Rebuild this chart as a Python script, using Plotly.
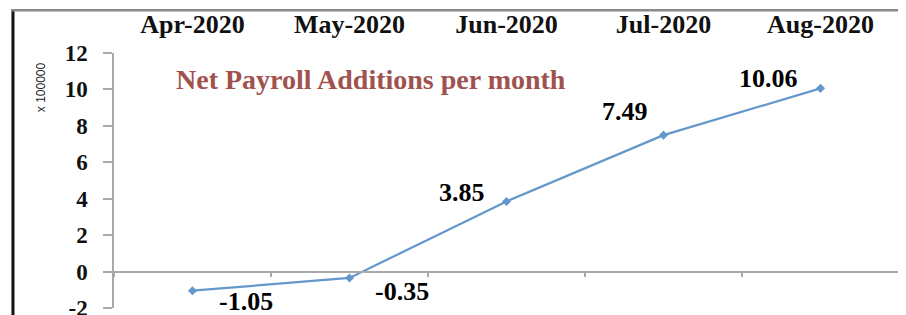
import plotly.graph_objects as go

months = ["Apr-2020", "May-2020", "Jun-2020", "Jul-2020", "Aug-2020"]
net_additions = [-1.05, -0.35, 3.85, 7.49, 10.06]
value_labels = ["-1.05", "-0.35", "3.85", "7.49", "10.06"]
y_ticks = [-2, 0, 2, 4, 6, 8, 10, 12]
y_tick_labels = ["-2", "0", "2", "4", "6", "8", "10", "12"]

# label offsets (style only), in pixels
label_dx = [53, 52, -45, -39, -52]
label_dy = [-11, -14, 9, 24, 10]

SERIF = "Liberation Serif"
LINE_BLUE = "#6497CA"
AXIS_GREY = "#A9A9A9"

fig = go.Figure()
fig.add_trace(go.Scatter(
    x=months, y=net_additions, mode="lines+markers",
    line=dict(color=LINE_BLUE, width=2.2),
    marker=dict(symbol="diamond", size=7, color=LINE_BLUE),
    xaxis="x", yaxis="y", showlegend=False, hoverinfo="skip",
))
# invisible companion trace so the zero-line axis is drawn
fig.add_trace(go.Scatter(
    x=months, y=net_additions, mode="none",
    xaxis="x2", yaxis="y", showlegend=False, hoverinfo="skip",
))

for m, v, t, dx, dy in zip(months, net_additions, value_labels, label_dx, label_dy):
    fig.add_annotation(
        x=m, y=v, xref="x", yref="y", text=t, showarrow=False,
        xshift=dx, yshift=dy, xanchor="center", yanchor="middle",
        font=dict(family=SERIF, size=26, color="#000000", weight="bold"),
    )

fig.add_annotation(
    x=0.327, y=0.895, xref="paper", yref="paper",
    xanchor="center", yanchor="middle",
    text="Net Payroll Additions per month", showarrow=False,
    font=dict(family=SERIF, size=28, color="#A0524F", weight="bold"),
)
fig.add_annotation(
    x=-0.092, y=0.865, xref="paper", yref="paper",
    xanchor="center", yanchor="middle",
    text="x 100000", showarrow=False, textangle=-90,
    font=dict(family="Liberation Sans", size=12, color="#222222"),
)

# frame lines (left black, top grey)
fig.add_shape(type="line", xref="paper", yref="paper",
              x0=-0.1287, x1=-0.1287, y0=1.17, y1=-0.05,
              line=dict(color="#111111", width=3))
fig.add_shape(type="line", xref="paper", yref="paper",
              x0=-0.131, x1=1.02, y0=1.168, y1=1.168,
              line=dict(color="#8A8A8A", width=2.5))

ymin, ymax = -2, 12
# the page body adds an 8px offset; size/margins compensate for it
fig.update_layout(
    width=898, height=307,
    margin=dict(l=106, r=7, t=45, b=7, autoexpand=False),
    paper_bgcolor="white", plot_bgcolor="white",
    xaxis=dict(
        type="category", categoryarray=months, categoryorder="array",
        range=[-0.5, 4.5], side="top", showline=False, ticks="",
        showgrid=False, zeroline=False, ticklabelstandoff=14, automargin=False,
        tickfont=dict(family=SERIF, size=26, color="#111111", weight="bold"),
    ),
    xaxis2=dict(
        type="category", categoryarray=months, categoryorder="array",
        range=[-0.5, 4.5], overlaying="x", anchor="free",
        position=(0 - ymin) / (ymax - ymin), side="bottom",
        showline=True, linecolor=AXIS_GREY, linewidth=1.5,
        ticks="outside", tickson="boundaries", ticklen=5,
        tickcolor=AXIS_GREY, tickwidth=1.5, automargin=False,
        showticklabels=False, showgrid=False, zeroline=False,
    ),
    yaxis=dict(
        range=[ymin, ymax], tickvals=y_ticks, ticktext=y_tick_labels,
        showgrid=False, zeroline=False,
        showline=True, linecolor=AXIS_GREY, linewidth=1.5,
        ticks="outside", ticklen=9, tickcolor=AXIS_GREY, tickwidth=1.5,
        ticklabelstandoff=11, automargin=False, ticklabeloverflow="allow",
        tickfont=dict(family=SERIF, size=23, color="#111111", weight="bold"),
    ),
)

fig.write_html("out.html")
